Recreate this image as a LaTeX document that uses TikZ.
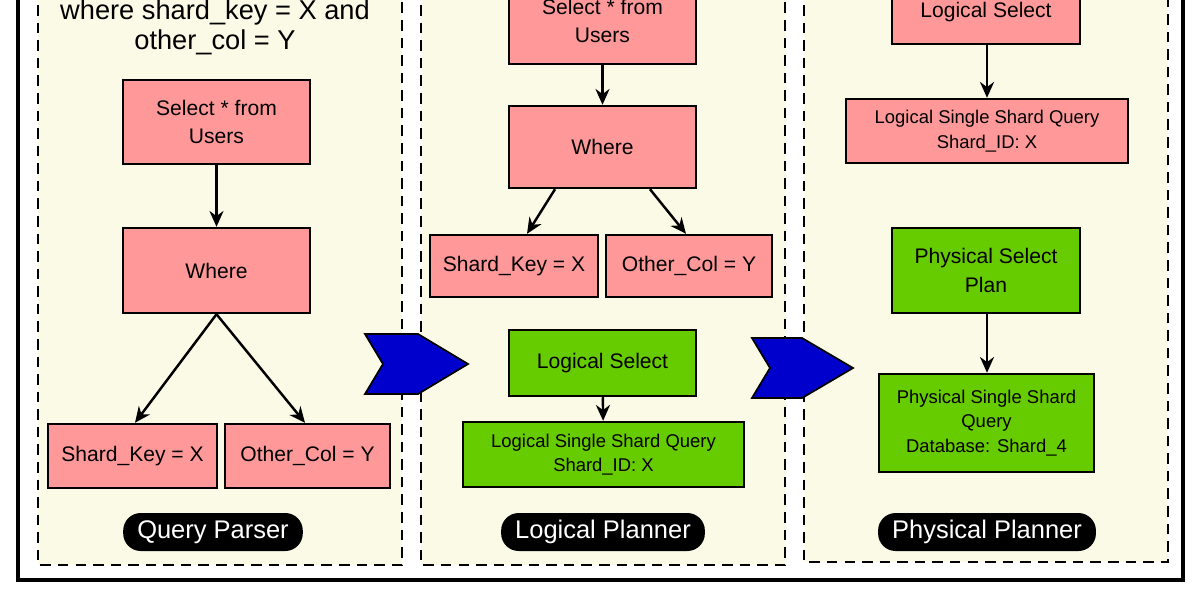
\documentclass[tikz,border=0pt]{standalone}
\usepackage{fontspec}
\setmainfont{Liberation Sans}
\usetikzlibrary{arrows.meta}
\definecolor{pnl}{HTML}{FAFAE6}
\definecolor{pink}{HTML}{FF9999}
\definecolor{grn}{HTML}{66CC00}
\definecolor{chev}{HTML}{0000CC}
\def\u{0.02cm}
\tikzset{
 box/.style={draw=black,line width=1.4pt,align=center,inner sep=1pt,font=\fontsize{12}{16}\selectfont},
 pk/.style={box,fill=pink},
 gr/.style={box,fill=grn},
 sm/.style={font=\fontsize{10.5}{14}\selectfont},
 pill/.style={fill=black,text=white,rounded corners=10pt,minimum height=38*\u,font=\fontsize{14.5}{16}\selectfont,inner xsep=8pt},
 panel/.style={draw=black,line width=1.4pt,dash pattern=on 6pt off 4pt,fill=pnl},
 arr/.style={line width=1.4pt,-{Stealth[length=9pt,width=8pt]}},
 chevs/.style={fill=chev,draw=black,line width=1pt}
}
\begin{document}
\begin{tikzpicture}[x=0.02cm,y=-0.02cm]
\useasboundingbox (0,0) rectangle (1200,600);
\fill[white] (0,0) rectangle (1200,600);
\draw[line width=2pt] (18,-30) rectangle (1183,580);
\draw[panel] (38,-30) rectangle (402,565);
\draw[panel] (421,-30) rectangle (785,565);
\draw[panel] (804,-30) rectangle (1168,562);
% panel 1
\node[align=center,font=\fontsize{15.5}{17}\selectfont] (q) at (215,27) {where shard\_key = X and\\other\_col = Y};
\node[pk,minimum width=187*\u,minimum height=84*\u] (s1) at (216.5,122) {Select * from\\Users};
\node[pk,minimum width=187*\u,minimum height=85*\u] (w1) at (216.5,270.5) {Where};
\node[pk,minimum width=169*\u,minimum height=64*\u] (k1) at (132.5,456) {Shard\_Key = X};
\node[pk,minimum width=165*\u,minimum height=64*\u] (o1) at (307.5,456) {Other\_Col = Y};
\node[pill] (l1) at (213,532) {Query Parser};
\draw[arr] (s1) -- (w1);
\draw[arr] (w1.south) -- (k1.north -| 135,0);
\draw[arr] (w1.south) -- (o1.north -| 305,0);
% panel 2
\node[pk,minimum width=187*\u,minimum height=86*\u] (s2) at (602.5,21) {Select * from\\Users};
\node[pk,minimum width=187*\u,minimum height=82*\u] (w2) at (602.5,147) {Where};
\node[pk,minimum width=168*\u,minimum height=62*\u] (k2) at (514,266) {Shard\_Key = X};
\node[pk,minimum width=166*\u,minimum height=62*\u] (o2) at (689,266) {Other\_Col = Y};
\node[gr,minimum width=187*\u,minimum height=66*\u] (g2) at (602.5,363) {Logical Select};
\node[gr,sm,minimum width=281*\u,minimum height=65*\u] (h2) at (603.5,454.5) {Logical Single Shard Query\\Shard\_ID: X};
\node[pill] (l2) at (603,532) {Logical Planner};
\draw[arr] (s2) -- (w2);
\draw[arr] (w2.south -| 555,0) -- (k2.north -| 527,0);
\draw[arr] (w2.south -| 650,0) -- (o2.north -| 686,0);
\draw[arr] (g2) -- (h2);
% panel 3
\node[pk,minimum width=188*\u,minimum height=64*\u] (s3) at (986,12) {Logical Select};
\node[pk,sm,minimum width=282*\u,minimum height=64*\u] (h3) at (987,131) {Logical Single Shard Query\\Shard\_ID: X};
\node[gr,minimum width=188*\u,minimum height=85*\u] (g3) at (986,270.5) {Physical Select\\Plan};
\node[gr,sm,minimum width=215*\u,minimum height=98*\u] (p3) at (986.5,423) {Physical Single Shard\\Query\\Database: Shard\_4};
\node[pill] (l3) at (987,532) {Physical Planner};
\draw[arr] (s3.south -| 987,0) -- (h3.north -| 987,0);
\draw[arr] (g3.south -| 987,0) -- (p3.north -| 987,0);
% chevrons
\draw[chevs] (365,334) -- (418,334) -- (468,364) -- (418,394) -- (365,394) -- (383,364) -- cycle;
\draw[chevs] (752,338) -- (802,338) -- (853,368) -- (802,398) -- (752,398) -- (770,368) -- cycle;
\end{tikzpicture}
\end{document}
